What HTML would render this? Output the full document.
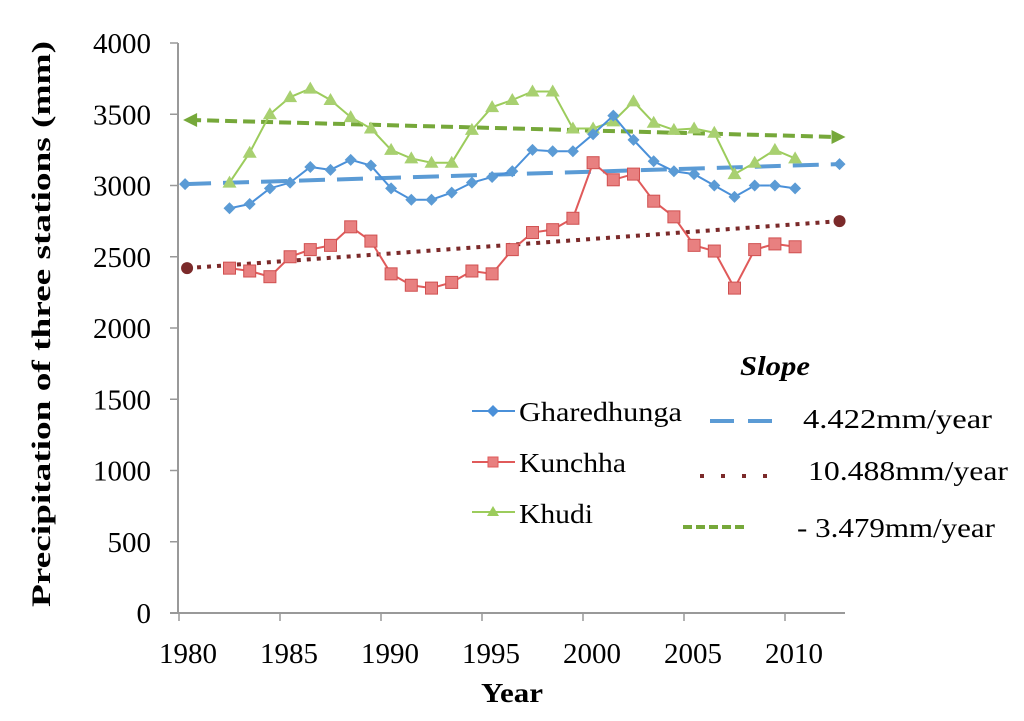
<!DOCTYPE html>
<html><head><meta charset="utf-8"><style>
html,body{margin:0;padding:0;background:#fff;}
svg{display:block;font-family:"Liberation Serif",serif;}
</style></head><body>
<svg id="chart" width="1024" height="721" viewBox="0 0 1024 721">
<g id="axes"></g>
<g id="trends"></g>
<g id="series"></g>
<text x="50" y="324" transform="rotate(-90 50 324)" text-anchor="middle" font-size="26" font-weight="bold" textLength="566" lengthAdjust="spacingAndGlyphs">Precipitation of three stations (mm)</text>
<text x="512" y="702" text-anchor="middle" font-size="27" font-weight="bold" textLength="62" lengthAdjust="spacingAndGlyphs">Year</text>
<g font-size="27">
<text x="740" y="375" font-weight="bold" font-style="italic" textLength="70" lengthAdjust="spacingAndGlyphs">Slope</text>
<g>
<line x1="472" y1="411" x2="515" y2="411" stroke="#4a90d9" stroke-width="2"/><path d="M493 405 L499 411 L493 417 L487 411Z" fill="#4a90d9"/>
<text x="519" y="421" textLength="163" lengthAdjust="spacingAndGlyphs">Gharedhunga</text></g>
<g>
<line x1="472" y1="462" x2="515" y2="462" stroke="#e05a5a" stroke-width="2"/><rect x="488" y="457" width="10" height="10" fill="#e88080" stroke="#e05a5a"/>
<text x="519" y="472" textLength="107" lengthAdjust="spacingAndGlyphs">Kunchha</text></g>
<g>
<line x1="472" y1="512" x2="515" y2="512" stroke="#9ccc5c" stroke-width="2"/><path d="M493 506 L499 516 L487 516Z" fill="#9ccc5c"/>
<text x="519" y="523" textLength="74" lengthAdjust="spacingAndGlyphs">Khudi</text></g>
<g><line x1="710" y1="421" x2="772" y2="421" stroke="#5b9bd5" stroke-width="4" stroke-dasharray="24 14"/><text x="803" y="428" textLength="189" lengthAdjust="spacingAndGlyphs">4.422mm/year</text></g>
<g><line x1="700" y1="476" x2="770" y2="476" stroke="#7b2a2a" stroke-width="4" stroke-dasharray="4 17"/><text x="808" y="480" textLength="200" lengthAdjust="spacingAndGlyphs">10.488mm/year</text></g>
<g><line x1="683" y1="527" x2="748" y2="527" stroke="#76a83a" stroke-width="4" stroke-dasharray="9 4"/><text x="797" y="537" textLength="198" lengthAdjust="spacingAndGlyphs">- 3.479mm/year</text></g>
</g>
</svg>
<script>
const years=[1982,1983,1984,1985,1986,1987,1988,1989,1990,1991,1992,1993,1994,1995,1996,1997,1998,1999,2000,2001,2002,2003,2004,2005,2006,2007,2008,2009,2010];
const gharedhunga=[2840,2870,2980,3020,3130,3110,3180,3140,2980,2900,2900,2950,3020,3060,3100,3250,3240,3240,3360,3490,3320,3170,3100,3080,3000,2920,3000,3000,2980];
const kunchha=[2420,2400,2360,2500,2550,2580,2710,2610,2380,2300,2280,2320,2400,2380,2550,2670,2690,2770,3160,3040,3080,2890,2780,2580,2540,2280,2550,2590,2570];
const khudi=[3020,3230,3500,3620,3680,3600,3480,3400,3250,3190,3160,3160,3390,3550,3600,3660,3660,3400,3400,3450,3590,3440,3390,3400,3370,3080,3160,3250,3190];
const yTicks=[0,500,1000,1500,2000,2500,3000,3500,4000];
const xTicks=[1980,1985,1990,1995,2000,2005,2010];
const trendStartYear=[1980.3,1980.4,1980.5];
const trendEndYear=[2012.7,2012.7,2012.7];
const trendStart=[3010,2420,3460];
const trendEnd=[3150,2750,3340];

const NS='http://www.w3.org/2000/svg';
function xS(y){return 179+(y-1980)*20.2;}
function xP(y){return xS(y+0.5);}
function yS(v){return 613-v*0.1425;}
function mk(tag,attrs,parent){const e=document.createElementNS(NS,tag);for(const k in attrs)e.setAttribute(k,attrs[k]);parent.appendChild(e);return e;}
const axes=document.getElementById('axes');
let ax=mk('line',{x1:178,y1:yS(4000),x2:178,y2:613,stroke:'#999','stroke-width':2},axes);


let bx=mk('line',{x1:170,y1:613,x2:845,y2:613,stroke:'#999','stroke-width':2},axes);


yTicks.forEach(v=>{
  mk('line',{x1:170,y1:yS(v),x2:178,y2:yS(v),stroke:'#999','stroke-width':1.5},axes);
  const t=mk('text',{x:151,y:yS(v)+10,'text-anchor':'end','font-size':29},axes);
  t.textContent=v;
  
  
});
xTicks.forEach(v=>{
  mk('line',{x1:xS(v),y1:613,x2:xS(v),y2:621,stroke:'#999','stroke-width':1.5},axes);
  const t=mk('text',{x:xS(v)+9,y:663,'text-anchor':'middle','font-size':29},axes);
  t.textContent=v;
  
  
});
const trends=document.getElementById('trends');
const tStyles=[{c:'#5b9bd5',d:'26 12'},{c:'#7b2a2a',d:'4 6'},{c:'#76a83a',d:'12 6'}];
const tNames=['trend-gharedhunga','trend-kunchha','trend-khudi'];
for(let i=0;i<3;i++){
  const x1=xS(trendStartYear[i]),y1=yS(trendStart[i]),x2=xS(trendEndYear[i]),y2=yS(trendEnd[i]);
  const g=mk('g',{},trends);
  
  
  mk('line',{x1:x1,y1:y1,x2:x2,y2:y2,stroke:tStyles[i].c,'stroke-width':4,'stroke-dasharray':tStyles[i].d},g);
  if(i===0){mk('path',{d:`M${x1-6} ${y1} L${x1} ${y1-6} L${x1+6} ${y1} L${x1} ${y1+6}Z`,fill:tStyles[i].c},g);mk('path',{d:`M${x2-6} ${y2} L${x2} ${y2-6} L${x2+6} ${y2} L${x2} ${y2+6}Z`,fill:tStyles[i].c},g);}
  if(i===1){mk('circle',{cx:x1,cy:y1,r:6,fill:tStyles[i].c},g);mk('circle',{cx:x2,cy:y2,r:6,fill:tStyles[i].c},g);}
  if(i===2){mk('path',{d:`M${x1-6} ${y1} L${x1+8} ${y1-7} L${x1+8} ${y1+7}Z`,fill:tStyles[i].c},g);mk('path',{d:`M${x2+6} ${y2} L${x2-8} ${y2-7} L${x2-8} ${y2+7}Z`,fill:tStyles[i].c},g);}
}
const seriesG=document.getElementById('series');
const series=[{d:khudi,c:'#9ccc5c',m:'tri',n:'khudi'},{d:gharedhunga,c:'#4a90d9',m:'dia',n:'gharedhunga'},{d:kunchha,c:'#e05a5a',m:'sq',n:'kunchha'}];
series.forEach(s=>{
  const g=mk('g',{},seriesG);
  
  
  mk('polyline',{points:s.d.map((v,i)=>xP(years[i])+','+yS(v)).join(' '),fill:'none',stroke:s.c,'stroke-width':2},g);
  s.d.forEach((v,i)=>{
    const x=xP(years[i]),y=yS(v);let e;
    if(s.m==='tri')e=mk('path',{d:`M${x} ${y-7} L${x+7} ${y+5} L${x-7} ${y+5}Z`,fill:'#a8d070'},g);
    else if(s.m==='dia')e=mk('path',{d:`M${x} ${y-6} L${x+6} ${y} L${x} ${y+6} L${x-6} ${y}Z`,fill:'#5b9bd5'},g);
    else e=mk('rect',{x:x-6,y:y-6,width:12,height:12,fill:'#e88080',stroke:'#d05050'},g);
    
    
  });
});
</script>
</body></html>
